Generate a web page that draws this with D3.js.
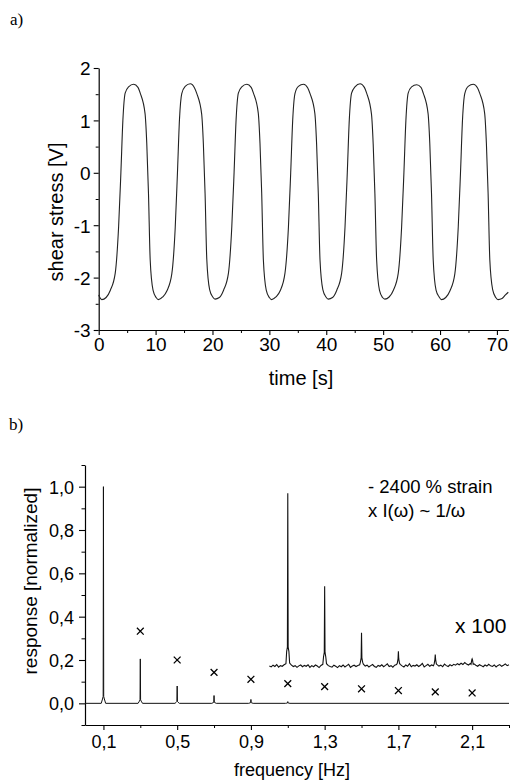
<!DOCTYPE html>
<html><head><meta charset="utf-8">
<script src="https://cdn.jsdelivr.net/npm/d3@7"></script>
<style>
html,body{margin:0;padding:0;background:#fff;}
svg{display:block;font-family:"Liberation Sans",Arial,Helvetica,sans-serif;}
</style></head>
<body>
<svg id="c" width="514" height="782"></svg>
<script>
// ---------- (a) shear stress vs time ----------
const stressTime = [0,0.2,
 0.55,1.3,2.05,2.9,3.5,3.9,4.25,4.65,5.25,6.15,6.9,7.3,8.15,8.45,8.75,9.05,9.55,10.1,
 10.5,11.25,12.0,12.85,13.45,13.85,14.2,14.6,15.2,16.1,16.85,17.25,18.1,18.4,18.7,19.0,19.5,20.05,
 20.45,21.2,21.95,22.8,23.4,23.8,24.15,24.55,25.15,26.05,26.8,27.2,28.05,28.35,28.65,28.95,29.45,30.0,
 30.4,31.15,31.9,32.75,33.35,33.75,34.1,34.5,35.1,36.0,36.75,37.15,38.0,38.3,38.6,38.9,39.4,39.95,
 40.35,41.1,41.85,42.7,43.3,43.7,44.05,44.45,45.05,45.95,46.7,47.1,47.95,48.25,48.55,48.85,49.35,49.9,
 50.3,51.05,51.8,52.65,53.25,53.65,54.0,54.4,55.0,55.9,56.65,57.05,57.9,58.2,58.5,58.8,59.3,59.85,
 60.25,61.0,61.75,62.6,63.2,63.6,63.95,64.35,64.95,65.85,66.6,67.0,67.85,68.15,68.45,68.75,69.25,69.8,
 70.2,70.9,71.5,72.0];
const stressValue = [-2.33,-2.38,
 -2.42,-2.38,-2.24,-1.92,-1.03,0.0,1.0,1.52,1.64,1.69,1.63,1.52,1.13,0.56,-0.39,-1.66,-2.24,-2.38,
 -2.42,-2.37,-2.25,-1.93,-1.05,0.02,1.02,1.51,1.65,1.70,1.62,1.51,1.12,0.55,-0.40,-1.65,-2.23,-2.37,
 -2.41,-2.38,-2.24,-1.92,-1.02,0.01,1.01,1.52,1.64,1.69,1.63,1.52,1.14,0.57,-0.38,-1.67,-2.24,-2.38,
 -2.42,-2.37,-2.25,-1.91,-1.04,0.0,1.0,1.51,1.65,1.69,1.62,1.51,1.13,0.56,-0.39,-1.66,-2.23,-2.37,
 -2.41,-2.38,-2.24,-1.92,-1.03,0.01,1.01,1.52,1.64,1.70,1.63,1.52,1.12,0.55,-0.40,-1.65,-2.24,-2.38,
 -2.41,-2.37,-2.24,-1.92,-1.03,0.0,1.0,1.52,1.64,1.68,1.63,1.52,1.13,0.56,-0.39,-1.66,-2.24,-2.37,
 -2.42,-2.38,-2.25,-1.93,-1.04,0.01,1.01,1.51,1.65,1.69,1.62,1.51,1.13,0.56,-0.39,-1.66,-2.23,-2.38,
 -2.42,-2.40,-2.33,-2.28];
const aXTicks = [0,10,20,30,40,50,60,70];
const aYTicks = [-3,-2,-1,0,1,2];
const aYTickLabels = ["-3","-2","-1","0","1","2"];

// ---------- (b) Fourier spectrum ----------
const bXTicks = [0.1,0.5,0.9,1.3,1.7,2.1];
const bXTickLabels = ["0,1","0,5","0,9","1,3","1,7","2,1"];
const bYTicks = [0.0,0.2,0.4,0.6,0.8,1.0];
const bYTickLabels = ["0,0","0,2","0,4","0,6","0,8","1,0"];

const mainPeakFreq   = [0.1, 0.3, 0.5, 0.7, 0.9, 1.1];
const mainPeakHeight = [1.0, 0.205, 0.08, 0.036, 0.018, 0.008];
const mainPeakBase   = [0.02, 0.01, 0.005, 0.003, 0.002, 0.001];

const crossFreq  = [0.3, 0.5, 0.7, 0.9, 1.1, 1.3, 1.5, 1.7, 1.9, 2.1];
const crossValue = [0.333, 0.200, 0.143, 0.111, 0.091, 0.077, 0.067, 0.059, 0.053, 0.048];

// x100 magnified spectrum (offset), sampled from 1.00 to 2.30 Hz
const insetStart = 1.0, insetStep = 0.01;
const insetNoise = [
 0.172,0.168,0.176,0.170,0.179,0.167,0.174,0.171,0.178,0.183,
 0.175,
 0.186,0.176,0.170,0.174,0.166,0.173,0.177,0.169,0.175,
 0.171,0.178,0.166,0.174,0.169,0.177,0.172,0.165,0.175,0.180,
 0.175,
 0.183,0.174,0.170,0.167,0.176,0.171,0.165,0.174,0.169,
 0.177,0.168,0.174,0.180,0.166,0.172,0.176,0.170,0.175,0.178,
 0.175,
 0.181,0.172,0.176,0.168,0.174,0.179,0.170,0.166,0.175,
 0.171,0.178,0.169,0.175,0.182,0.170,0.174,0.167,0.176,0.179,
 0.175,
 0.180,0.173,0.168,0.177,0.171,0.183,0.169,0.175,0.172,
 0.178,0.170,0.176,0.184,0.168,0.174,0.180,0.171,0.177,0.173,
 0.175,
 0.179,0.172,0.176,0.169,0.181,0.174,0.170,0.178,0.173,
 0.180,0.176,0.183,0.178,0.185,0.179,0.188,0.181,0.177,0.184,
 0.175,
 0.182,0.176,0.171,0.178,0.174,0.169,0.177,0.172,0.180,
 0.173,0.170,0.177,0.168,0.175,0.179,0.171,0.176,0.182,0.174,0.178];
const insetPeakFreq   = [1.1, 1.3, 1.5, 1.7, 1.9, 2.1];
const insetPeakHeight = [0.97, 0.54, 0.326, 0.24, 0.225, 0.205];
const insetPeakBase   = [0.24, 0.215, 0.19, 0.185, 0.182, 0.18];

// ---------- drawing ----------
const svg = d3.select("#c");
const FONT_TICK_A = 19, FONT_LABEL_A = 20;

function styleAxis(g, fontSize){
  g.select(".domain").attr("stroke","#000").attr("stroke-width",1.2);
  g.selectAll(".tick line").attr("stroke","#000").attr("stroke-width",1.1);
  g.selectAll(".tick text").attr("fill","#000").style("font-size",fontSize+"px")
    .style("font-family",'"Liberation Sans",Arial,Helvetica,sans-serif');
}

// panel labels
svg.append("text").attr("x",10).attr("y",25).text("a)")
  .style("font-family",'"Liberation Serif","Times New Roman",serif').style("font-size","17px");
svg.append("text").attr("x",9).attr("y",430).text("b)")
  .style("font-family",'"Liberation Serif","Times New Roman",serif').style("font-size","17px");

// ---- panel a ----
const xA = d3.scaleLinear().domain([0,72]).range([98.7,508.3]);
const yA = d3.scaleLinear().domain([-3,2]).range([330,68]);

const gAxm = svg.append("g").attr("transform",`translate(0,${yA(-3)})`)
  .call(d3.axisBottom(xA).tickValues([5,15,25,35,45,55,65]).tickSize(3).tickFormat(""));
gAxm.select(".domain").remove();
gAxm.selectAll(".tick line").attr("stroke","#000");
const gAym = svg.append("g").attr("transform",`translate(${xA(0)},0)`)
  .call(d3.axisLeft(yA).tickValues([-2.5,-1.5,-0.5,0.5,1.5]).tickSize(3).tickFormat(""));
gAym.select(".domain").remove();
gAym.selectAll(".tick line").attr("stroke","#000");

const gAx = svg.append("g").attr("transform",`translate(0,${yA(-3)})`)
  .call(d3.axisBottom(xA).tickValues(aXTicks).tickSize(5).tickSizeOuter(0).tickPadding(3).tickFormat(d3.format("d")));
styleAxis(gAx, FONT_TICK_A);
const gAy = svg.append("g").attr("transform",`translate(${xA(0)},0)`)
  .call(d3.axisLeft(yA).tickValues(aYTicks).tickSize(5).tickSizeOuter(0).tickPadding(3)
    .tickFormat((d,i)=>aYTickLabels[i]));
styleAxis(gAy, FONT_TICK_A);
gAy.selectAll(".tick text").attr("dy","0.36em");

const lineA = d3.line().x((d,i)=>xA(stressTime[i])).y(d=>yA(d)).curve(d3.curveMonotoneX);
svg.append("path").attr("d",lineA(stressValue)).attr("fill","none")
  .attr("stroke","#222").attr("stroke-width",1.1);

svg.append("text").attr("x",301).attr("y",385).attr("text-anchor","middle")
  .style("font-size",FONT_LABEL_A+"px").text("time [s]");
svg.append("text").attr("transform",`translate(63,212) rotate(-90)`).attr("text-anchor","middle")
  .style("font-size",FONT_LABEL_A+"px").text("shear stress [V]");

// ---- panel b ----
const xB = d3.scaleLinear().domain([0,2.3]).range([85,509]);
const yB = d3.scaleLinear().domain([-0.1,1.1]).range([725,465]);

const gBxm = svg.append("g").attr("transform",`translate(0,${yB(-0.1)})`)
  .call(d3.axisBottom(xB).tickValues([0.3,0.7,1.1,1.5,1.9,2.3]).tickSize(3).tickFormat(""));
gBxm.select(".domain").remove();
gBxm.selectAll(".tick line").attr("stroke","#000");
const gBym = svg.append("g").attr("transform",`translate(${xB(0)},0)`)
  .call(d3.axisLeft(yB).tickValues([-0.1,0.1,0.3,0.5,0.7,0.9,1.1]).tickSize(3.5).tickFormat(""));
gBym.select(".domain").remove();
gBym.selectAll(".tick line").attr("stroke","#000");

const gBx = svg.append("g").attr("transform",`translate(0,${yB(-0.1)})`)
  .call(d3.axisBottom(xB).tickValues(bXTicks).tickSize(5).tickSizeOuter(0).tickPadding(5)
    .tickFormat((d,i)=>bXTickLabels[i]));
styleAxis(gBx, 18);
const gBy = svg.append("g").attr("transform",`translate(${xB(0)},0)`)
  .call(d3.axisLeft(yB).tickValues(bYTicks).tickSize(6).tickSizeOuter(0).tickPadding(5)
    .tickFormat((d,i)=>bYTickLabels[i]));
styleAxis(gBy, 18);
gBy.selectAll(".tick text").attr("dy","0.36em");

// main spectrum
const mainPts = [[0,0]];
mainPeakFreq.forEach((f,i)=>{
  mainPts.push([f-0.012,0],[f-0.005,mainPeakBase[i]],[f-0.0015,mainPeakBase[i]*1.6],[f,mainPeakHeight[i]],
               [f+0.0015,mainPeakBase[i]*1.6],[f+0.005,mainPeakBase[i]],[f+0.012,0]);
});
mainPts.push([2.3,0]);
const lineB = d3.line().x(d=>xB(d[0])).y(d=>yB(d[1]));
svg.append("path").attr("d",lineB(mainPts)).attr("fill","none")
  .attr("stroke","#111").attr("stroke-width",1);

// inset x100 spectrum
const insetPts = [];
insetNoise.forEach((v,i)=>{
  const f = insetStart + i*insetStep;
  if (insetPeakFreq.some(p=>Math.abs(p-f)<0.005)) return;
  insetPts.push([f,v]);
});
insetPeakFreq.forEach((f,i)=>{
  insetPts.push([f-0.006,insetPeakBase[i]],[f-0.002,insetPeakBase[i]+0.02],[f,insetPeakHeight[i]],
                [f+0.002,insetPeakBase[i]+0.02],[f+0.006,insetPeakBase[i]]);
});
insetPts.sort((a,b)=>a[0]-b[0]);
svg.append("path").attr("d",lineB(insetPts)).attr("fill","none")
  .attr("stroke","#111").attr("stroke-width",1.1);

// crosses
const xSym = d3.symbol().type(d3.symbolX).size(32);
svg.append("g").selectAll("path").data(crossValue).join("path")
  .attr("transform",(d,i)=>`translate(${xB(crossFreq[i])},${yB(d)})`)
  .attr("d",xSym).attr("fill","none").attr("stroke","#000").attr("stroke-width",1.3);

// texts
svg.append("text").attr("x",368).attr("y",493).style("font-size","18.5px").text("- 2400 % strain");
svg.append("text").attr("x",368).attr("y",517).style("font-size","18.5px").text("x I(\u03c9) ~ 1/\u03c9");
svg.append("text").attr("x",455).attr("y",633).style("font-size","21px").text("x 100");

svg.append("text").attr("x",292).attr("y",776).attr("text-anchor","middle")
  .style("font-size","18px").text("frequency [Hz]");
svg.append("text").attr("transform",`translate(37,581) rotate(-90)`).attr("text-anchor","middle")
  .style("font-size","19px").text("response [normalized]");
</script>
</body></html>
